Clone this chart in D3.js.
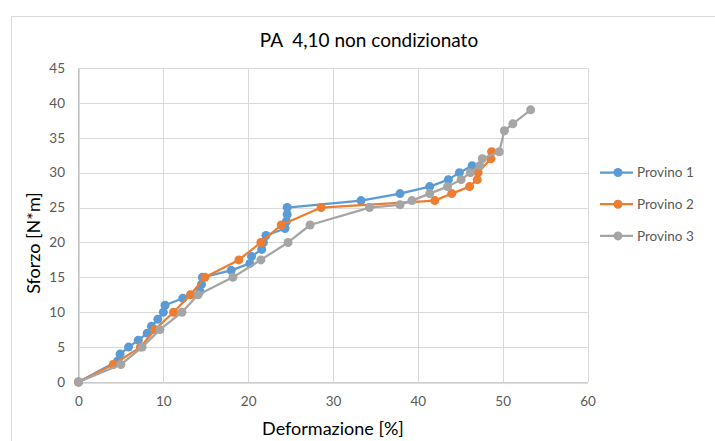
<!DOCTYPE html>
<html>
<head>
<meta charset="utf-8">
<script src="https://cdn.jsdelivr.net/npm/d3@7"></script>
<style>
    body { margin: 0; background: #fff; }
    svg { font-family: "Lato", "Open Sans", sans-serif; }
</style>
</head>
<body>
<script>
// chart values
var chartTitle = "PA  4,10 non condizionato";
var xTitle = "Deformazione [%]";
var yTitle = "Sforzo [N*m]";
var seriesNames = ["Provino 1", "Provino 2", "Provino 3"];
var seriesColors = ["#5B9BD5", "#ED7D31", "#A5A5A5"];
var xTicks = [0, 10, 20, 30, 40, 50, 60];
var yTicks = [0, 5, 10, 15, 20, 25, 30, 35, 40, 45];

var provino1X = [0, 4.6, 4.9, 5.9, 7.05, 8.1, 8.6, 9.35, 10.0, 10.2, 12.3, 14.3, 14.5, 14.6, 18.0, 20.2, 20.4, 21.6, 21.8, 22.1, 24.35, 24.5, 24.6, 24.6, 33.3, 37.9, 41.4, 43.6, 44.9, 46.4];
var provino1Y = [0, 3, 4, 5, 6, 7, 8, 9, 10, 11, 12, 13, 14, 15, 16, 17, 18, 19, 20, 21, 22, 23, 24, 25, 26, 27, 28, 29, 30, 31];

var provino2X = [0, 4.1, 7.3, 9.0, 11.2, 13.2, 14.9, 18.9, 21.5, 23.9, 28.6, 42.0, 44.0, 46.1, 47.0, 47.1, 48.6, 48.7];
var provino2Y = [0, 2.5, 5, 7.5, 10, 12.5, 15, 17.5, 20, 22.5, 25, 26, 27, 28, 29, 30, 32, 33];

var provino3X = [0, 5.0, 7.5, 9.6, 12.2, 14.1, 18.2, 21.5, 24.7, 27.3, 34.3, 37.9, 39.3, 41.4, 43.5, 45.1, 46.2, 47.3, 47.6, 49.6, 50.2, 51.2, 53.3];
var provino3Y = [0, 2.5, 5, 7.5, 10, 12.5, 15, 17.5, 20, 22.5, 25, 25.4, 26, 27, 28, 29, 30, 31, 32, 33, 36, 37, 39];

var seriesX = [provino1X, provino2X, provino3X];
var seriesY = [provino1Y, provino2Y, provino3Y];

window.onload = drawChart;

function drawChart(){
    var width = 715,
        height = 441;

    var svg = d3.select("body")
        .append("svg")
        .attr("width", width)
        .attr("height", height);

    // chart frame
    svg.append("rect")
        .attr("x", 11.5)
        .attr("y", 16.5)
        .attr("width", 720)
        .attr("height", 440)
        .attr("fill", "#fff")
        .attr("stroke", "#d9d9d9");

    var plot = { left: 78.5, right: 587.5, top: 68, bottom: 382 };

    var x = d3.scaleLinear().domain([0, 60]).range([plot.left, plot.right]);
    var y = d3.scaleLinear().domain([0, 45]).range([plot.bottom, plot.top]);

    // gridlines
    svg.append("g")
        .selectAll("line.hgrid")
        .data(yTicks)
        .enter()
        .append("line")
        .attr("x1", plot.left)
        .attr("x2", plot.right)
        .attr("y1", function(d){ return Math.round(y(d)) + 0.5; })
        .attr("y2", function(d){ return Math.round(y(d)) + 0.5; })
        .attr("stroke", "#d9d9d9")
        .attr("stroke-width", 1);

    svg.append("g")
        .selectAll("line.vgrid")
        .data(xTicks)
        .enter()
        .append("line")
        .attr("y1", plot.top)
        .attr("y2", plot.bottom)
        .attr("x1", function(d){ return Math.round(x(d)) + 0.5; })
        .attr("x2", function(d){ return Math.round(x(d)) + 0.5; })
        .attr("stroke", "#d9d9d9")
        .attr("stroke-width", 1);

    // axes (labels only, lines drawn as grid)
    var xAxis = svg.append("g")
        .attr("transform", "translate(0," + (plot.bottom + 0.5) + ")")
        .call(d3.axisBottom(x).tickValues(xTicks).tickSize(0).tickPadding(14));
    var yAxis = svg.append("g")
        .attr("transform", "translate(" + (plot.left - 0.5) + ",0)")
        .call(d3.axisLeft(y).tickValues(yTicks).tickSize(0).tickPadding(13));

    [xAxis, yAxis].forEach(function(ax){
        ax.select(".domain").attr("stroke", "#bfbfbf");
        ax.selectAll("text")
            .attr("fill", "#595959")
            .style("font-size", "13.5px")
            .style("font-family", "Lato, 'Open Sans', sans-serif");
    });

    // series
    var line = d3.line()
        .x(function(d){ return x(d[0]); })
        .y(function(d){ return y(d[1]); });

    seriesNames.forEach(function(name, i){
        var pts = seriesX[i].map(function(v, j){ return [v, seriesY[i][j]]; });
        var g = svg.append("g").attr("class", "series");
        g.append("path")
            .datum(pts)
            .attr("d", line)
            .attr("fill", "none")
            .attr("stroke", seriesColors[i])
            .attr("stroke-width", 2.25)
            .attr("stroke-linejoin", "round");
        g.selectAll("circle")
            .data(pts)
            .enter()
            .append("circle")
            .attr("cx", function(d){ return x(d[0]); })
            .attr("cy", function(d){ return y(d[1]); })
            .attr("r", 4.5)
            .attr("fill", seriesColors[i]);
    });

    // titles
    svg.append("text")
        .attr("x", 369)
        .attr("y", 47)
        .attr("text-anchor", "middle")
        .attr("fill", "#000")
        .style("font-size", "19px")
        .style("white-space", "pre")
        .text(chartTitle);

    svg.append("text")
        .attr("x", 333)
        .attr("y", 435)
        .attr("text-anchor", "middle")
        .attr("fill", "#000")
        .style("font-size", "18px")
        .text(xTitle);

    svg.append("text")
        .attr("transform", "translate(40,243) rotate(-90)")
        .attr("text-anchor", "middle")
        .attr("fill", "#000")
        .style("font-size", "18px")
        .text(yTitle);

    // legend
    var legend = svg.append("g")
        .selectAll("g")
        .data(seriesNames)
        .enter()
        .append("g")
        .attr("transform", function(d, i){ return "translate(600," + (172.5 + i * 31.7) + ")"; });

    legend.append("line")
        .attr("x1", 0)
        .attr("x2", 33)
        .attr("stroke", function(d, i){ return seriesColors[i]; })
        .attr("stroke-width", 2.25);
    legend.append("circle")
        .attr("cx", 18)
        .attr("r", 4.5)
        .attr("fill", function(d, i){ return seriesColors[i]; });
    legend.append("text")
        .attr("x", 37)
        .attr("dy", "0.35em")
        .attr("fill", "#595959")
        .style("font-size", "13.5px")
        .text(function(d){ return d; });
}
</script>
</body>
</html>
